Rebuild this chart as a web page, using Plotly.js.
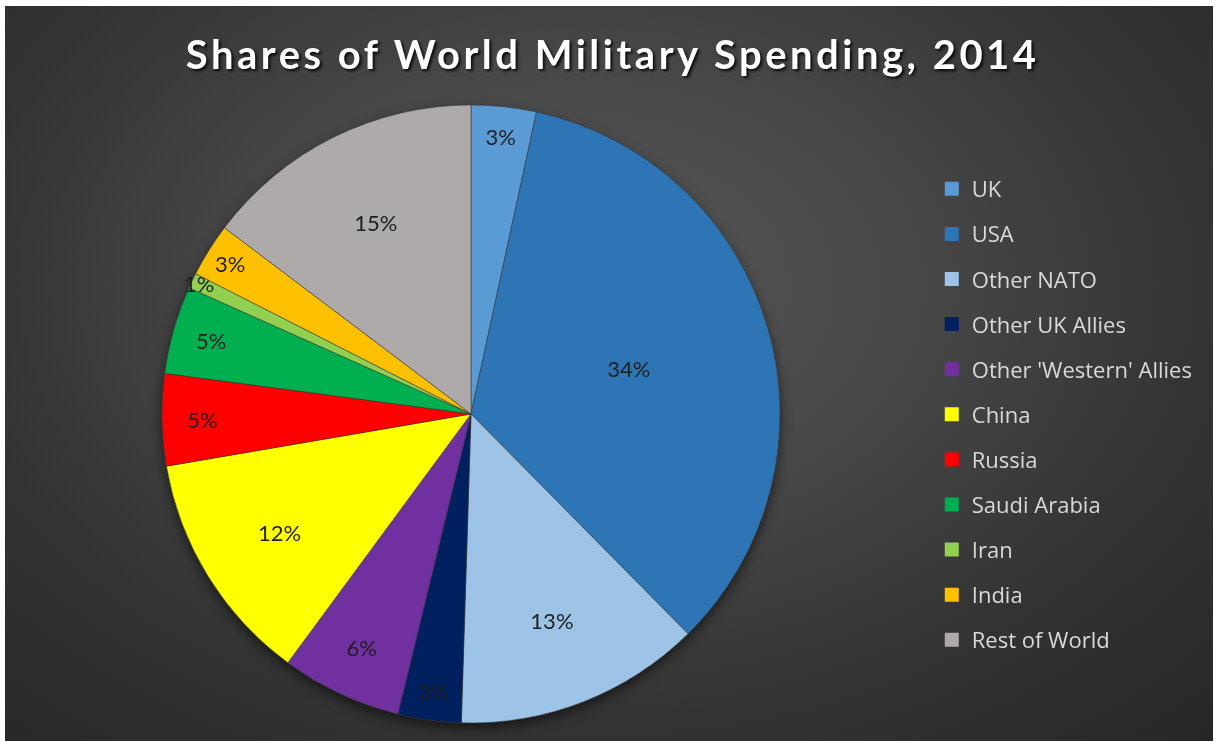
<!DOCTYPE html>
<html>
<head>
<meta charset="utf-8">
<script src="https://cdn.plot.ly/plotly-3.0.1.min.js"></script>
<style>
  html, body { margin: 0; padding: 0; background: #ffffff; width: 1218px; height: 742px; overflow: hidden; }
  #bg { position: absolute; left: 5px; top: 6px; width: 1208px; height: 735px;
        background: radial-gradient(ellipse 75% 85% at 48% 38%, #595959 0%, #454545 40%, #333333 70%, #272727 100%); }
  #chart { position: absolute; left: 0; top: 0; width: 1218px; height: 742px; }
  #chart .pielayer { filter: drop-shadow(0px 5px 6px rgba(0,0,0,0.55)); }
  #chart .gtitle { letter-spacing: 3.5px; }
</style>
</head>
<body>
<div id="bg"></div>
<div id="chart"></div>
<script>
// Data (shares of world military spending, 2014, %)
const labels = ["UK", "USA", "Other NATO", "Other UK Allies", "Other 'Western' Allies",
                "China", "Russia", "Saudi Arabia", "Iran", "India", "Rest of World"];
const shares = [3.4, 34.2, 12.9, 3.3, 6.3, 12.2, 4.8, 4.6, 0.8, 2.8, 14.7];
const colors = ["#5B9BD5", "#2E75B6", "#9DC3E6", "#002060", "#7030A0",
                "#FFFF00", "#FF0000", "#00B050", "#92D050", "#FFC000", "#AEAAAA"];
const chartTitle = "Shares of World Military Spending, 2014";

const W = 1218, H = 742;
const cx = 471, cy = 414, R = 309;

const pie = {
  type: "pie",
  labels: labels,
  values: shares,
  sort: false,
  direction: "clockwise",
  rotation: 0,
  marker: { colors: colors, line: { color: "rgba(60,60,60,0.7)", width: 0.8 } },
  textposition: "inside",
  insidetextorientation: "horizontal",
  texttemplate: "%{percent:.0%}",
  textfont: { family: "Lato, 'Open Sans', sans-serif", size: 22, color: "#1f1f1f" },
  hoverinfo: "label+percent",
  showlegend: false,
  domain: { x: [(cx - R) / W, (cx + R) / W], y: [(H - cy - R) / H, (H - cy + R) / H] }
};

// Legend entries built from the same labels / colours
const legendTraces = labels.map((lab, i) => ({
  type: "scatter",
  mode: "markers",
  x: [null], y: [null],
  name: lab,
  legendgroup: "g" + i,
  marker: { symbol: "square", size: 14, color: colors[i] },
  hoverinfo: "skip",
  showlegend: true
}));

const layout = {
  width: W, height: H,
  margin: { l: 0, r: 0, t: 0, b: 0 },
  paper_bgcolor: "rgba(0,0,0,0)",
  plot_bgcolor: "rgba(0,0,0,0)",
  uniformtext: { minsize: 22, mode: "show" },
  title: {
    text: chartTitle,
    x: 0.503, xref: "paper", xanchor: "center",
    y: 1 - 55 / H, yref: "container", yanchor: "middle",
    font: { family: "Lato, 'Open Sans', sans-serif", size: 40, weight: 700, color: "#ffffff",
            shadow: "2px 2px 3px rgba(0,0,0,0.85)" }
  },
  xaxis: { visible: false, domain: [0.78, 0.79] },
  yaxis: { visible: false, domain: [0.5, 0.51] },
  showlegend: true,
  legend: {
    x: 0.765, xanchor: "left",
    y: 1 - 168 / H, yanchor: "top",
    bgcolor: "rgba(0,0,0,0)",
    font: { family: "'Open Sans', 'Noto Sans', sans-serif", size: 22, color: "#d9d9d9" },
    traceorder: "grouped",
    tracegroupgap: 13.5,
    itemsizing: "trace",
    itemwidth: 30,
    itemclick: false, itemdoubleclick: false
  }
};

Plotly.newPlot("chart", [pie].concat(legendTraces), layout, { displayModeBar: false });
</script>
</body>
</html>
